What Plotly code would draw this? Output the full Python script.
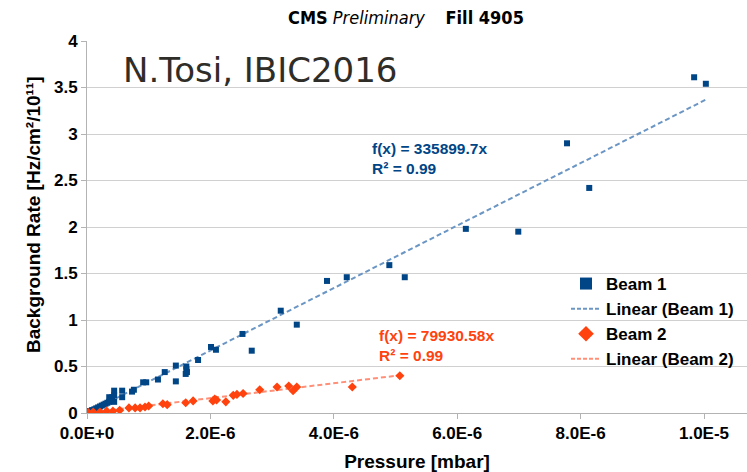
import plotly.graph_objects as go

# ---------------- data ----------------
E6 = 1e-6  # values below are in units of 1E-6 mbar
beam1_x_e6 = [0.02, 0.04, 0.06, 0.08, 0.10, 0.12, 0.15, 0.18, 0.21, 0.24, 0.27, 0.30,
              0.33, 0.36, 0.40, 0.44, 0.36, 0.41, 0.44, 0.44, 0.57, 0.57, 0.73, 0.76,
              0.91, 0.96, 1.15, 1.26, 1.44, 1.44, 1.61, 1.61, 1.62, 1.60, 1.80, 2.01,
              2.09, 2.52, 2.67, 3.14, 3.40, 3.89, 4.21, 4.90, 5.15, 6.14, 6.99, 7.78,
              8.14, 9.84, 10.03]
beam1_y = [0.01, 0.02, 0.02, 0.03, 0.03, 0.04, 0.05, 0.06, 0.07, 0.08, 0.09, 0.10,
           0.11, 0.12, 0.13, 0.12, 0.17, 0.17, 0.19, 0.24, 0.17, 0.24, 0.23, 0.25,
           0.33, 0.33, 0.36, 0.44, 0.51, 0.34, 0.50, 0.47, 0.44, 0.42, 0.57, 0.71,
           0.68, 0.85, 0.67, 1.10, 0.95, 1.42, 1.46, 1.59, 1.46, 1.98, 1.95, 2.90,
           2.42, 3.61, 3.54]

beam2_x_e6 = [0.02, 0.10, 0.21, 0.32, 0.42, 0.53, 0.68, 0.78, 0.86, 0.94, 1.00, 1.23,
              1.30, 1.60, 1.72, 2.04, 2.07, 2.10, 2.25, 2.37, 2.43, 2.53, 2.80, 3.08,
              3.27, 3.34, 3.40, 4.30, 5.07]
beam2_y = [0.005, 0.01, 0.01, 0.02, 0.02, 0.03, 0.055, 0.055, 0.055, 0.065, 0.075, 0.10,
           0.09, 0.11, 0.13, 0.13, 0.15, 0.14, 0.12, 0.19, 0.20, 0.21, 0.25, 0.28,
           0.29, 0.24, 0.28, 0.28, 0.40]

slope1 = 335899.7
slope2 = 79930.58
fit1_text = ["f(x) = 335899.7x", "R² = 0.99"]
fit2_text = ["f(x) = 79930.58x", "R² = 0.99"]

x_tickvals = [0, 2e-6, 4e-6, 6e-6, 8e-6, 1e-5]
x_ticktext = ["0.0E+0", "2.0E-6", "4.0E-6", "6.0E-6", "8.0E-6", "1.0E-5"]
y_tickvals = [0, 0.5, 1, 1.5, 2, 2.5, 3, 3.5, 4]
y_ticktext = ["0", "0.5", "1", "1.5", "2", "2.5", "3", "3.5", "4"]

# ---------------- styling ----------------
C1 = "#004586"
C1_FIT = "#6b96c4"
C2 = "#ff420e"
C2_FIT = "#ff9077"
FONT = "Liberation Sans"
NARROW = "Liberation Sans Narrow, DejaVu Sans Condensed, Liberation Sans"

beam1_x = [v * E6 for v in beam1_x_e6]
beam2_x = [v * E6 for v in beam2_x_e6]
fit1_x = [0, max(beam1_x)]
fit1_y = [slope1 * v for v in fit1_x]
fit2_x = [0, max(beam2_x)]
fit2_y = [slope2 * v for v in fit2_x]

fig = go.Figure()

fig.add_trace(go.Scatter(x=fit1_x, y=fit1_y, mode="lines", showlegend=False,
                         line=dict(color=C1_FIT, width=2, dash="5px,3px"), hoverinfo="skip"))
fig.add_trace(go.Scatter(x=fit2_x, y=fit2_y, mode="lines", showlegend=False,
                         line=dict(color=C2_FIT, width=2, dash="5px,3px"), hoverinfo="skip"))
fig.add_trace(go.Scatter(x=beam1_x, y=beam1_y, mode="markers", showlegend=False,
                         marker=dict(symbol="square", size=6, color=C1)))
fig.add_trace(go.Scatter(x=beam2_x, y=beam2_y, mode="markers", showlegend=False,
                         marker=dict(symbol="diamond", size=7, color=C2)))

# legend entries
fig.add_trace(go.Scatter(x=[None], y=[None], mode="markers", name="Beam 1",
                         marker=dict(symbol="square", size=12, color=C1)))
fig.add_trace(go.Scatter(x=[None], y=[None], mode="lines", name="Linear (Beam 1)",
                         line=dict(color=C1_FIT, width=2, dash="4px,2px")))
fig.add_trace(go.Scatter(x=[None], y=[None], mode="markers", name="Beam 2",
                         marker=dict(symbol="diamond", size=12, color=C2)))
fig.add_trace(go.Scatter(x=[None], y=[None], mode="lines", name="Linear (Beam 2)",
                         line=dict(color=C2_FIT, width=2, dash="4px,2px")))

L, R, T, B = 87, 0, 41, 59
W, H = 747, 472
pw, ph = W - L - R, H - T - B


def px_x(p):
    return (p - L) / pw


def px_y(p):
    return (H - B - p) / ph


def ann(text, x, y, size, color, family=FONT, xanchor="left", **kw):
    return dict(text=text, x=px_x(x), y=px_y(y), xanchor=xanchor, yanchor="middle",
                xref="paper", yref="paper", showarrow=False,
                font=dict(family=family, size=size, color=color), **kw)


annotations = [
    ann("<b>CMS</b> <i>Preliminary</i>&nbsp;&nbsp;&nbsp;&nbsp;<b>Fill 4905</b>",
        406, 17, 18, "#000000", family=NARROW, xanchor="center"),
    ann("N.Tosi, IBIC2016", 121, 70, 34, "#2f2d28", family="DejaVu Sans"),
    ann("<b>Background Rate [Hz/cm²/10¹¹]</b>", 33, 215, 19, "#000000",
        xanchor="center", textangle=-90),
    ann("<b>" + fit1_text[0] + "<br>" + fit1_text[1] + "</b>", 370, 158, 15.5, C1,
        align="left"),
    ann("<b>" + fit2_text[0] + "<br>" + fit2_text[1] + "</b>", 377, 345, 15.5, C2,
        align="left"),
]

fig.update_layout(
    width=W, height=H,
    margin=dict(l=L, r=R, t=T, b=B, pad=0),
    paper_bgcolor="white", plot_bgcolor="white",
    font=dict(family=FONT, size=16, color="#000000"),
    showlegend=True,
    legend=dict(x=px_x(566), y=px_y(266), xanchor="left", yanchor="top",
                bgcolor="rgba(0,0,0,0)", borderwidth=0, tracegroupgap=0,
                font=dict(family=FONT, size=17, color="#000000", weight="bold")),
    annotations=annotations,
    xaxis=dict(range=[0, pw / 61.7 * 1e-6], tickvals=x_tickvals, ticktext=x_ticktext,
               showgrid=False, zeroline=False, showline=True, linecolor="#b3b3b3",
               linewidth=1, ticks="outside", ticklen=5, tickcolor="#b3b3b3",
               tickfont=dict(family=FONT, size=17, color="#000000", weight="bold"),
               title=dict(text="<b>Pressure [mbar]</b>", standoff=14,
                          font=dict(family=FONT, size=19, color="#000000"))),
    yaxis=dict(range=[0, 4], tickvals=y_tickvals, ticktext=y_ticktext,
               showgrid=True, gridcolor="#d0d0d0", gridwidth=1, zeroline=False,
               showline=True, linecolor="#b3b3b3", linewidth=1, ticks="outside",
               ticklen=5, tickcolor="#b3b3b3",
               tickfont=dict(family=FONT, size=17, color="#000000", weight="bold")),
)

fig.write_html("out.html")
